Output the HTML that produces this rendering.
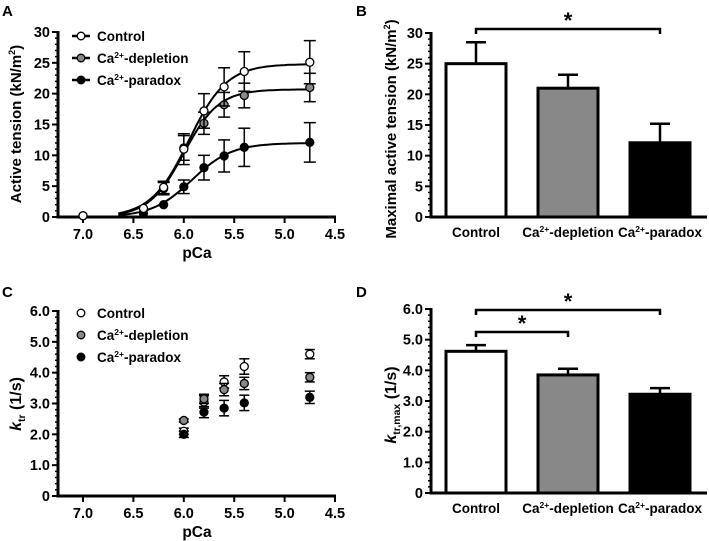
<!DOCTYPE html>
<html><head><meta charset="utf-8"><style>
html,body{margin:0;padding:0;background:#fff;}
svg{display:block;font-family:"Liberation Sans",Arial,sans-serif;font-weight:bold;}
</style></head><body>
<svg id="fig" width="709" height="541" viewBox="0 0 709 541" xmlns="http://www.w3.org/2000/svg"></svg>
<script>
// ---- Data ----
const pcaA = [7.0, 6.4, 6.2, 6.0, 5.8, 5.6, 5.4, 4.75];
const ctrlA = [0.2, 1.4, 4.8, 11.0, 17.2, 21.1, 23.6, 25.1];
const ctrlAErr = [0, 0.3, 1.0, 2.5, 2.8, 3.1, 3.2, 3.5];
const deplA = [0.2, 1.3, 4.6, 11.2, 15.2, 18.2, 19.7, 21.0];
const deplAErr = [0, 0.3, 1.0, 2.0, 1.8, 2.0, 2.0, 2.3];
const paraA = [0.2, 0.6, 2.0, 4.9, 8.0, 9.9, 11.3, 12.1];
const paraAErr = [0, 0.2, 0.4, 1.1, 2.0, 2.6, 3.1, 3.2];
const hillMax = [24.8, 20.7, 12.0];
const hillPca50 = [5.95, 6.0, 5.92];
const hillN = [2.3, 2.5, 2.2];
const pcaC = [6.0, 5.8, 5.6, 5.4, 4.75];
const ctrlC = [2.1, 3.05, 3.7, 4.2, 4.6];
const ctrlCErr = [0.1, 0.2, 0.2, 0.25, 0.15];
const deplC = [2.45, 3.15, 3.45, 3.65, 3.85];
const deplCErr = [0.05, 0.15, 0.2, 0.2, 0.15];
const paraC = [2.0, 2.72, 2.85, 3.02, 3.2];
const paraCErr = [0.1, 0.18, 0.25, 0.25, 0.2];
const groups = ["Control", "depletion", "paradox"];
const maxTension = [25.0, 21.0, 12.1];
const maxTensionErr = [3.5, 2.2, 3.1];
const ktrMax = [4.62, 3.85, 3.22];
const ktrMaxErr = [0.2, 0.2, 0.2];
const xTicks = [7.0, 6.5, 6.0, 5.5, 5.0, 4.5];
const yTicksA = [0, 5, 10, 15, 20, 25, 30];
const yTicksC = [0, 1, 2, 3, 4, 5, 6];

const svg = document.getElementById('fig');
const NS = 'http://www.w3.org/2000/svg';
function el(tag, attrs, parent) {
  const e = document.createElementNS(NS, tag);
  for (const k in attrs) e.setAttribute(k, attrs[k]);
  (parent || svg).appendChild(e);
  return e;
}
function txt(x, y, s, size, anchor, parent) {
  const t = el('text', {x: x, y: y, 'font-size': size, 'text-anchor': anchor || 'middle'}, parent);
  t.innerHTML = s;
  return t;
}
const fills = ['#fff', '#888', '#000'];
const caLabels = ['Control', 'Ca<tspan font-size="8.5" dy="-5">2+</tspan><tspan dy="5">-depletion</tspan>', 'Ca<tspan font-size="8.5" dy="-5">2+</tspan><tspan dy="5">-paradox</tspan>'];

const xp = v => 83 + (7.0 - v) * 100.8;

function pcaAxes(g, y0, yTop, yTicks, yMax, fmt) {
  const ys = v => y0 - v / yMax * (y0 - yTop);
  const ax = el('g', {stroke: '#000', 'stroke-width': 3, fill: 'none'}, g);
  
  
  el('line', {x1: 58, y1: yTop - 1, x2: 58, y2: y0 + 1.5}, ax);
  el('line', {x1: 56.5, y1: y0, x2: 336, y2: y0}, ax);
  yTicks.forEach(v => {
    el('line', {x1: 52, y1: ys(v), x2: 58, y2: ys(v), 'stroke-width': 2}, ax);
    txt(50, ys(v) + 5, fmt(v), 14.5, 'end', g);
  });
  for (let i = 0; i < (yTicks.length - 1) * 5; i++) {
    const v = i * yMax / ((yTicks.length - 1) * 5);
    el('line', {x1: 55, y1: ys(v), x2: 58, y2: ys(v), 'stroke-width': 1.5}, ax);
  }
  xTicks.forEach(v => {
    el('line', {x1: xp(v), y1: y0, x2: xp(v), y2: y0 + 6, 'stroke-width': 2}, ax);
    txt(xp(v), y0 + 22, v.toFixed(1), 14.5, 'middle', g);
  });
  txt(197, y0 + 41, 'pCa', 15.5, 'middle', g);
  return ys;
}
function errBar(g, x, y1, y2, w) {
  el('line', {x1: x, y1: y1, x2: x, y2: y2, stroke: '#000', 'stroke-width': 1.5}, g);
  el('line', {x1: x - w, y1: y1, x2: x + w, y2: y1, stroke: '#000', 'stroke-width': 1.5}, g);
  el('line', {x1: x - w, y1: y2, x2: x + w, y2: y2, stroke: '#000', 'stroke-width': 1.5}, g);
}

// ---- Panel A ----
const gA = el('g', {});


txt(2, 16, 'A', 15, 'start', gA);
const ysA = pcaAxes(gA, 217, 32, yTicksA, 30, v => String(v));
const tA = txt(0, 0, 'Active tension (kN/m<tspan font-size="9" dy="-6">2</tspan><tspan dy="6">)</tspan>', 15, 'middle', gA);
tA.setAttribute('transform', 'translate(21,124) rotate(-90)');
const seriesA = [[ctrlA, ctrlAErr], [deplA, deplAErr], [paraA, paraAErr]];
[2, 1, 0].forEach(s => {
  const g = el('g', {}, gA);
  
  
  let d = '';
  for (let p = 6.65; p >= 4.749; p -= 0.025) {
    const v = hillMax[s] / (1 + Math.pow(10, hillN[s] * (p - hillPca50[s])));
    d += (d ? 'L' : 'M') + xp(p).toFixed(1) + ',' + ysA(v).toFixed(1);
  }
  const c = el('path', {d: d, stroke: '#000', 'stroke-width': 2, fill: 'none'}, g);
  
  
  const [vals, errs] = seriesA[s];
  vals.forEach((v, i) => {
    if (errs[i] > 0.4) errBar(g, xp(pcaA[i]), ysA(v + errs[i]), ysA(v - errs[i]), 6);
    const pt = el('circle', {cx: xp(pcaA[i]), cy: ysA(v), r: 4, fill: fills[s], stroke: '#000', 'stroke-width': 1.3}, g);
    
    
  });
});
[0, 1, 2].forEach(s => {
  const y = 36 + s * 22;
  const lg = el('g', {}, gA);
  
  
  el('line', {x1: 72, y1: y, x2: 90, y2: y, stroke: '#000', 'stroke-width': 2.5}, lg);
  el('circle', {cx: 81, cy: y, r: 3.8, fill: fills[s], stroke: '#000', 'stroke-width': 1.3}, lg);
  txt(97, y + 5, caLabels[s], 13.5, 'start', lg);
});

// ---- Panel C ----
const gC = el('g', {});


txt(2, 297, 'C', 15, 'start', gC);
const ysC = pcaAxes(gC, 496, 311, yTicksC, 6, v => v === 0 ? '0' : v.toFixed(1));
const tC = txt(0, 0, '<tspan font-style="italic">k</tspan><tspan font-size="10.5" dy="4">tr</tspan><tspan dy="-4"> (1/s)</tspan>', 16, 'middle', gC);
tC.setAttribute('transform', 'translate(21,404) rotate(-90)');
const seriesC = [[ctrlC, ctrlCErr], [deplC, deplCErr], [paraC, paraCErr]];
[0, 1, 2].forEach(s => {
  const g = el('g', {}, gC);
  
  
  const [vals, errs] = seriesC[s];
  vals.forEach((v, i) => {
    errBar(g, xp(pcaC[i]), ysC(v + errs[i]), ysC(v - errs[i]), 5);
    const pt = el('circle', {cx: xp(pcaC[i]), cy: ysC(v), r: 4, fill: fills[s], stroke: '#000', 'stroke-width': 1.3}, g);
    
    
  });
  const y = 313 + s * 22;
  const lg = el('g', {}, gC);
  
  
  el('circle', {cx: 81, cy: y, r: 3.8, fill: fills[s], stroke: '#000', 'stroke-width': 1.3}, lg);
  txt(97, y + 5, caLabels[s], 13.5, 'start', lg);
});

// ---- Bar panels ----
const barCx = [476, 568, 660];
function barPanel(name, letter, ly, y0, yTop, yTicks, yMax, fmt, vals, errs, title, tsize, brackets) {
  const g = el('g', {});
  
  
  txt(356, ly, letter, 15, 'start', g);
  const ys = v => y0 - v / yMax * (y0 - yTop);
  vals.forEach((v, i) => {
    el('line', {x1: barCx[i] - 10, y1: ys(v + errs[i]), x2: barCx[i] + 10, y2: ys(v + errs[i]), stroke: '#000', 'stroke-width': 2.5}, g);
    el('line', {x1: barCx[i], y1: ys(v + errs[i]), x2: barCx[i], y2: ys(v), stroke: '#000', 'stroke-width': 2.5}, g);
    const b = el('rect', {x: barCx[i] - 30, y: ys(v), width: 60, height: y0 - ys(v), fill: fills[i], stroke: '#000', 'stroke-width': 3}, g);
    
    
    txt(barCx[i], y0 + 20, caLabels[i], 13.5, 'middle', g);
  });
  el('line', {x1: 431, y1: yTop - 1, x2: 431, y2: y0 + 1.5, stroke: '#000', 'stroke-width': 3}, g);
  el('line', {x1: 429.5, y1: y0, x2: 707, y2: y0, stroke: '#000', 'stroke-width': 3}, g);
  yTicks.forEach(v => {
    el('line', {x1: 425, y1: ys(v), x2: 431, y2: ys(v), stroke: '#000', 'stroke-width': 2}, g);
    txt(423, ys(v) + 5, fmt(v), 14.5, 'end', g);
  });
  for (let i = 0; i < (yTicks.length - 1) * 5; i++) {
    const v = i * yMax / ((yTicks.length - 1) * 5);
    el('line', {x1: 428, y1: ys(v), x2: 431, y2: ys(v), stroke: '#000', 'stroke-width': 1.5}, g);
  }
  const t = txt(0, 0, title, tsize, 'middle', g);
  t.setAttribute('transform', 'translate(396,' + ((y0 + yTop) / 2 + 4) + ') rotate(-90)');
  brackets.forEach(([a, b, y]) => {
    const br = el('path', {d: `M${barCx[a]},${y + 5}V${y}H${barCx[b]}V${y + 5}`, stroke: '#000', 'stroke-width': 2.5, fill: 'none'}, g);
    
    
    txt((barCx[a] + barCx[b]) / 2, y - 1, '*', 22, 'middle', g);
  });
}
barPanel('panel-b-max-tension', 'B', 16, 217, 33, yTicksA, 30, v => String(v), maxTension, maxTensionErr,
  'Maximal active tension (kN/m<tspan font-size="9" dy="-6">2</tspan><tspan dy="6">)</tspan>', 15, [[0, 2, 29]]);
barPanel('panel-d-ktr-max', 'D', 297, 493, 309, yTicksC, 6, v => v === 0 ? '0' : v.toFixed(1), ktrMax, ktrMaxErr,
  '<tspan font-style="italic">k</tspan><tspan font-size="10.5" dy="4">tr,max</tspan><tspan dy="-4"> (1/s)</tspan>', 16, [[0, 2, 310], [0, 1, 332]]);
</script>
</body></html>
